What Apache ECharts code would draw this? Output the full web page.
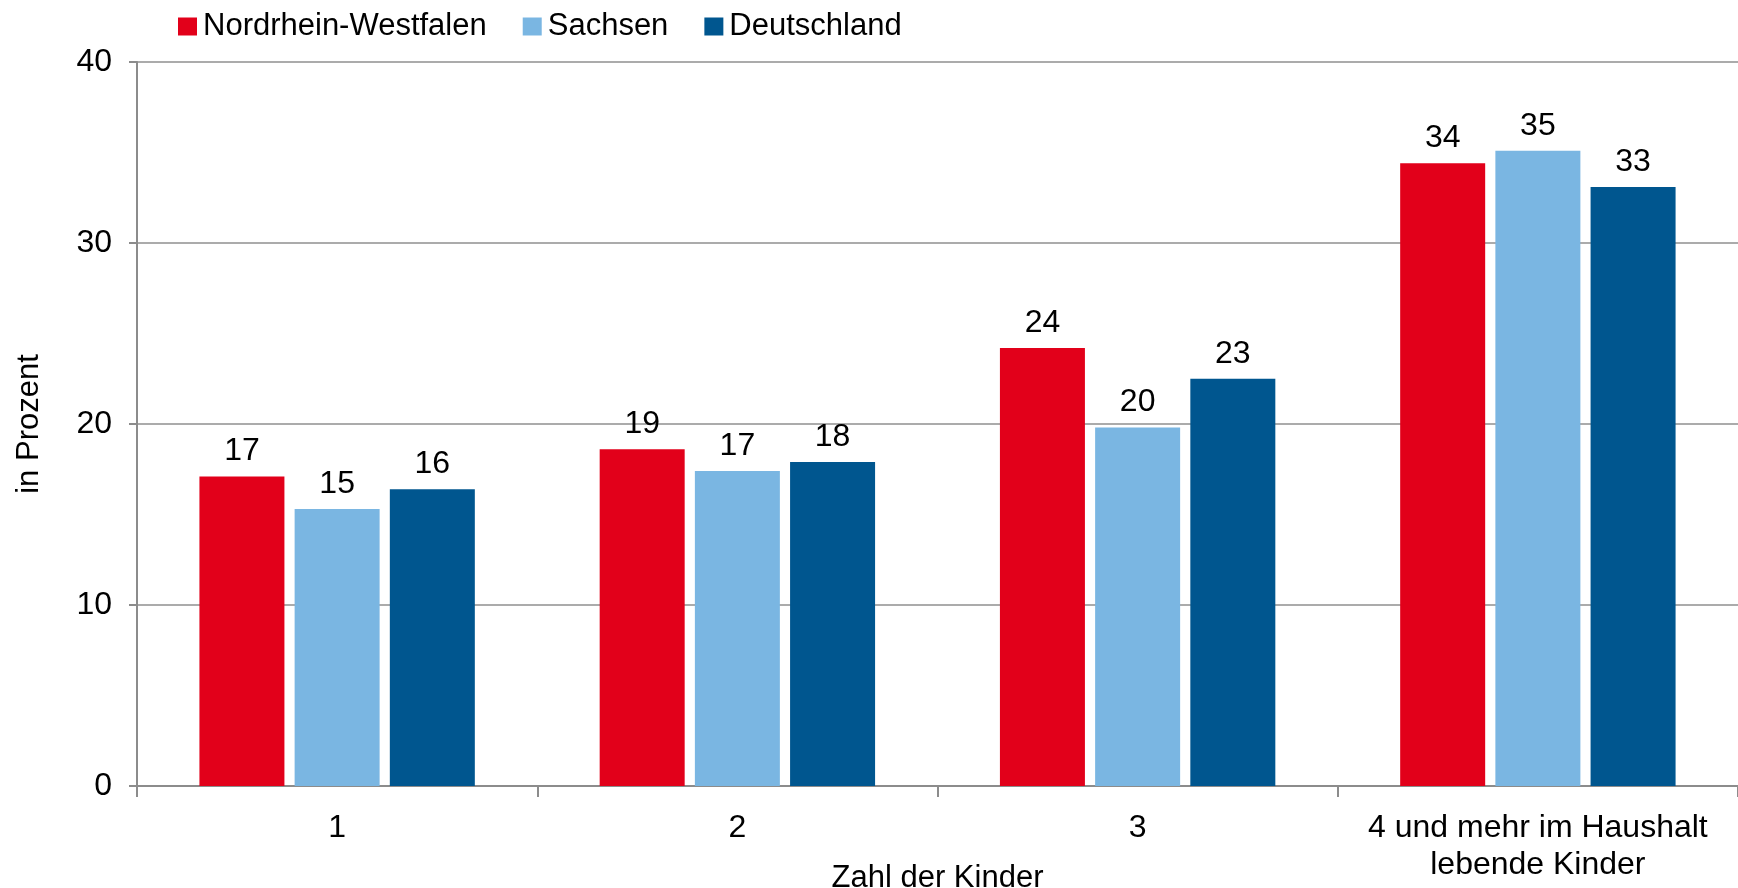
<!doctype html>
<html>
    <head>
        <meta charset="utf-8">
        <title>Zahl der Kinder</title>
        <style>
            html, body { margin: 0; padding: 0; background: #fff; }
            #main { width: 1738px; height: 888px; }
        </style>
    </head>
    <body>
        <div id="main"></div>
        <script src="https://cdn.jsdelivr.net/npm/echarts@6/dist/echarts.min.js"></script>
        <script>
            var categories = ['1', '2', '3', '4 und mehr im Haushalt\nlebende Kinder'];
            var seriesNames = ['Nordrhein-Westfalen', 'Sachsen', 'Deutschland'];
            var nrw = [17.1, 18.6, 24.2, 34.4];
            var sachsen = [15.3, 17.4, 19.8, 35.1];
            var deutschland = [16.4, 17.9, 22.5, 33.1];
            var colors = ['#e2001a', '#7ab6e2', '#00568f'];

            var FONT = '"Liberation Sans", Arial, sans-serif';
            var chart = echarts.init(document.getElementById('main'));

            function barSeries(name, values, color) {
                return {
                    name: name,
                    type: 'bar',
                    data: values,
                    barWidth: 85,
                    barGap: '12%',
                    itemStyle: { color: color },
                    label: {
                        show: true,
                        position: 'top',
                        distance: 9,
                        color: '#000',
                        fontFamily: FONT,
                        fontSize: 32,
                        formatter: function (p) {
                            return Math.round(p.value);
                        }
                    }
                };
            }

            chart.setOption({
                animation: false,
                color: colors,
                textStyle: { fontFamily: FONT },
                legend: {
                    left: 173,
                    top: 6,
                    icon: 'rect',
                    itemWidth: 19,
                    itemHeight: 18,
                    itemGap: 36,
                    textStyle: { fontSize: 31, color: '#000', fontFamily: FONT, padding: [0, 0, 0, 1] },
                    data: seriesNames
                },
                grid: {
                    left: 137,
                    right: 0,
                    top: 62,
                    bottom: 102,
                    containLabel: false,
                    outerBoundsMode: 'none'
                },
                xAxis: {
                    type: 'category',
                    data: categories,
                    name: 'Zahl der Kinder',
                    nameLocation: 'middle',
                    nameGap: 77,
                    nameMoveOverlap: false,
                    nameTextStyle: { fontSize: 31, color: '#000', fontFamily: FONT },
                    axisLine: { lineStyle: { color: '#8c8c8c', width: 2 } },
                    axisTick: { show: true, length: 11, lineStyle: { color: '#8c8c8c', width: 2 } },
                    axisLabel: {
                        interval: 0,
                        margin: 24,
                        fontSize: 32,
                        lineHeight: 37,
                        color: '#000',
                        fontFamily: FONT
                    }
                },
                yAxis: {
                    type: 'value',
                    min: 0,
                    max: 40,
                    interval: 10,
                    name: 'in Prozent',
                    nameLocation: 'middle',
                    nameGap: 92,
                    nameMoveOverlap: false,
                    nameTextStyle: { fontSize: 31, color: '#000', fontFamily: FONT },
                    axisLine: { show: true, lineStyle: { color: '#8c8c8c', width: 2 } },
                    axisTick: { show: true, length: 8, lineStyle: { color: '#8c8c8c', width: 2 } },
                    axisLabel: {
                        margin: 25,
                        fontSize: 32,
                        color: '#000',
                        fontFamily: FONT
                    },
                    splitLine: { lineStyle: { color: '#8f8f8f', width: 1.5 } }
                },
                series: [
                    barSeries(seriesNames[0], nrw, colors[0]),
                    barSeries(seriesNames[1], sachsen, colors[1]),
                    barSeries(seriesNames[2], deutschland, colors[2])
                ]
            });

            window.addEventListener('resize', function () {
                chart.resize();
            });
        </script>
    </body>
</html>
